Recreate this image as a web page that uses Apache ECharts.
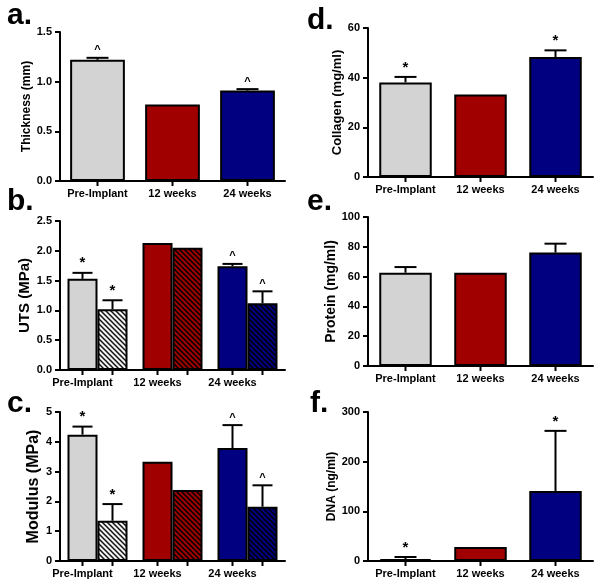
<!DOCTYPE html>
<html><head><meta charset="utf-8">
<script src="https://cdn.jsdelivr.net/npm/echarts@6/dist/echarts.min.js"></script>
<style>html,body{margin:0;padding:0;background:#fff}#c{width:604px;height:588px}</style>
</head><body><div id="c"></div><script>
// ---- data ----
const categories = ['Pre-Implant', '12 weeks', '24 weeks'];
// a. Thickness (mm)
const thickness = [1.22, 0.77, 0.91];
const thicknessErr = [1.24, null, 0.925];
const thicknessMarks = ['^', '', '^'];
// b. UTS (MPa)
const utsSolid = [1.53, 2.13, 1.74];
const utsSolidErr = [1.63, null, 1.78];
const utsSolidMarks = ['*', '', '^'];
const utsHatch = [1.02, 2.05, 1.12];
const utsHatchErr = [1.17, null, 1.32];
const utsHatchMarks = ['*', '', '^'];
// c. Modulus (MPa)
const modSolid = [4.24, 3.33, 3.79];
const modSolidErr = [4.51, null, 4.56];
const modSolidMarks = ['*', '', '^'];
const modHatch = [1.35, 2.38, 1.82];
const modHatchErr = [1.91, null, 2.54];
const modHatchMarks = ['*', '', '^'];
// d. Collagen (mg/ml)
const collagen = [38.1, 33.2, 48.3];
const collagenErr = [40.3, null, 51.0];
const collagenMarks = ['*', '', '*'];
// e. Protein (mg/ml)
const protein = [62.6, 62.6, 76.1];
const proteinErr = [66.4, null, 82.1];
const proteinMarks = ['', '', ''];
// f. DNA (ng/ml)
const dna = [4, 28, 141];
const dnaErr = [8, null, 262];
const dnaMarks = ['*', '', '*'];

// ---- styles ----
const FONT = '"Liberation Sans", Arial, sans-serif';
const SOLID = ['#d3d3d3', '#a00000', '#000080'];
function pattern(bg, fg) {
  const s = 5; const c = document.createElement('canvas'); c.width = c.height = s;
  const ctx = c.getContext('2d'); ctx.fillStyle = bg; ctx.fillRect(0, 0, s, s);
  ctx.strokeStyle = fg; ctx.lineWidth = 1.5;
  for (const k of [-s, 0, s]) { ctx.beginPath(); ctx.moveTo(-1, -1 + k); ctx.lineTo(s + 1, s + 1 + k); ctx.stroke(); }
  return { image: c, repeat: 'repeat' };
}
const HATCH = [pattern('#f2f2f2', '#111'), pattern('#a00000', '#000'), pattern('#000080', '#000')];

const grids = [], xAxes = [], yAxes = [], series = [];

function addPanel(gi, box, yCfg, grouped) {
  grids.push(Object.assign({ containLabel: false }, box));
  xAxes.push({
    type: 'category', gridIndex: gi, data: categories,
    axisLine: { lineStyle: { color: '#000', width: 2 } },
    axisTick: { show: false },
    axisLabel: { color: '#000', fontWeight: 'bold', fontSize: 11, fontFamily: FONT, margin: 7,
      interval: 0, hideOverlap: false, padding: grouped ? [0, 30, 0, 0] : 0 },
    splitLine: { show: false }
  });
  yAxes.push({
    type: 'value', gridIndex: gi, min: 0, max: yCfg.max, interval: yCfg.interval,
    name: yCfg.name, nameLocation: 'middle', nameGap: yCfg.gap,
    nameTextStyle: { color: '#000', fontWeight: 'bold', fontSize: yCfg.size, fontFamily: FONT },
    axisLine: { show: true, lineStyle: { color: '#000', width: 2 } },
    axisTick: { show: true, length: 5, lineStyle: { color: '#000', width: 2 } },
    axisLabel: { color: '#000', fontWeight: 'bold', fontSize: 11, fontFamily: FONT, margin: 8,
      formatter: v => v.toFixed(yCfg.dec) },
    splitLine: { show: false }
  });
}

function barSeries(gi, values, colors, gap, barGap) {
  return {
    type: 'bar', xAxisIndex: gi, yAxisIndex: gi, barCategoryGap: gap, barGap: barGap,
    itemStyle: { borderColor: '#000', borderWidth: 2 },
    data: values.map((v, i) => ({ value: v, itemStyle: { color: colors[i] } }))
  };
}

function errSeries(gi, values, errs, marks, off, cap) {
  return {
    type: 'custom', xAxisIndex: gi, yAxisIndex: gi, z: 5,
    data: values.map((v, i) => [i, v, errs[i] == null ? v : errs[i]]),
    renderItem(params, api) {
      const i = api.value(0);
      const cw = api.size([1, 0])[0];
      const p0 = api.coord([i, 0]);
      const x = p0[0] + off * cw, y0 = p0[1];
      const yv = api.coord([i, api.value(1)])[1];
      const ye = api.coord([i, api.value(2)])[1];
      const ls = { stroke: '#000', lineWidth: 2 };
      const ch = [{ type: 'line', shape: { x1: x, y1: y0, x2: x, y2: y0 + 5 }, style: ls }];
      if (ye < yv - 0.5) {
        ch.push({ type: 'line', shape: { x1: x, y1: yv, x2: x, y2: ye }, style: ls });
        ch.push({ type: 'line', shape: { x1: x - cap, y1: ye, x2: x + cap, y2: ye }, style: ls });
      }
      const m = marks[params.dataIndex];
      if (m) ch.push({ type: 'text', style: { text: m, x: x, y: ye - 2, align: 'center', verticalAlign: 'bottom',
        fill: '#000', font: 'bold ' + (m === '*' ? 15 : 11) + 'px ' + FONT } });
      return { type: 'group', children: ch };
    }
  };
}

// a
addPanel(0, { left: 60, top: 32, width: 225, height: 149 }, { max: 1.5, interval: 0.5, dec: 1, name: 'Thickness (mm)', size: 12, gap: 25 });
series.push(barSeries(0, thickness, SOLID, '27%'));
series.push(errSeries(0, thickness, thicknessErr, thicknessMarks, 0, 11));
// b
addPanel(1, { left: 60, top: 221, width: 225, height: 149 }, { max: 2.5, interval: 0.5, dec: 1, name: 'UTS (MPa)', size: 15, gap: 23 }, true);
series.push(barSeries(1, utsSolid, SOLID, '20%', '0%'));
series.push(barSeries(1, utsHatch, HATCH, '20%', '0%'));
series.push(errSeries(1, utsSolid, utsSolidErr, utsSolidMarks, -0.2, 10));
series.push(errSeries(1, utsHatch, utsHatchErr, utsHatchMarks, 0.2, 10));
// c
addPanel(2, { left: 60, top: 412, width: 225, height: 149 }, { max: 5, interval: 1, dec: 0, name: 'Modulus (MPa)', size: 16, gap: 18 }, true);
series.push(barSeries(2, modSolid, SOLID, '20%', '0%'));
series.push(barSeries(2, modHatch, HATCH, '20%', '0%'));
series.push(errSeries(2, modSolid, modSolidErr, modSolidMarks, -0.2, 10));
series.push(errSeries(2, modHatch, modHatchErr, modHatchMarks, 0.2, 10));
// d
addPanel(3, { left: 368, top: 28, width: 225, height: 149 }, { max: 60, interval: 20, dec: 0, name: 'Collagen (mg/ml)', size: 13, gap: 21 });
series.push(barSeries(3, collagen, SOLID, '30%'));
series.push(errSeries(3, collagen, collagenErr, collagenMarks, 0, 11));
// e
addPanel(4, { left: 368, top: 217, width: 225, height: 149 }, { max: 100, interval: 20, dec: 0, name: 'Protein (mg/ml)', size: 14, gap: 20 });
series.push(barSeries(4, protein, SOLID, '30%'));
series.push(errSeries(4, protein, proteinErr, proteinMarks, 0, 11));
// f
addPanel(5, { left: 368, top: 412, width: 225, height: 149 }, { max: 300, interval: 100, dec: 0, name: 'DNA (ng/ml)', size: 12, gap: 19 });
series.push(barSeries(5, dna, SOLID, '30%'));
series.push(errSeries(5, dna, dnaErr, dnaMarks, 0, 11));

const panelLabels = [['a.', 7, 18], ['b.', 7, 204], ['c.', 7, 406], ['d.', 307, 23], ['e.', 307, 204], ['f.', 310, 406]];

const chart = echarts.init(document.getElementById('c'), null, { renderer: 'canvas' });
chart.setOption({
  animation: false,
  backgroundColor: '#fff',
  grid: grids, xAxis: xAxes, yAxis: yAxes, series: series,
  graphic: panelLabels.map(p => ({ type: 'text', left: p[1], top: p[2] - 17,
    style: { text: p[0], fill: '#000', font: 'bold 30px ' + FONT } }))
});
</script></body></html>
